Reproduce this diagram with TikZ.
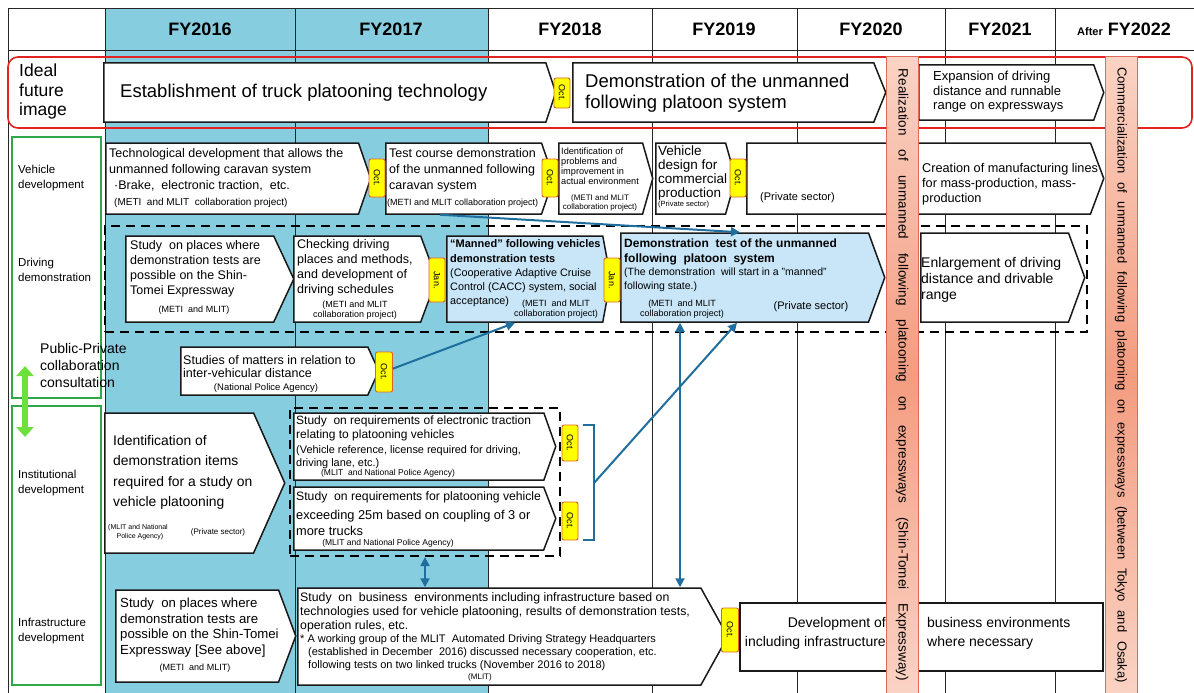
\documentclass[tikz,border=0pt]{standalone}
\usepackage{fontspec}
\setmainfont{Liberation Sans}
\usepackage{tikz}
\usetikzlibrary{arrows.meta,shapes.symbols,calc}
\definecolor{fyblue}{HTML}{86CDE0}
\definecolor{boxblue}{HTML}{C8E6F8}
\definecolor{arrblue}{HTML}{1F6E9E}
\definecolor{tagyel}{HTML}{FFFF00}
\definecolor{tagedge}{HTML}{E0602A}
\definecolor{barlt}{HTML}{FAD3C4}
\definecolor{bardk}{HTML}{F49C80}
\definecolor{baredge}{HTML}{E06A5A}
\definecolor{framered}{HTML}{E32222}
\definecolor{lblgreen}{HTML}{2EA84A}
\definecolor{arrgreen}{HTML}{6EE03C}
\newcommand{\fsz}[2]{\fontsize{#1}{#2}\selectfont}
\tikzset{
  gridline/.style={line width=0.9pt, black!85},
  hd/.style={font=\fsz{18}{20}\bfseries},
  txt/.style={inner sep=0pt, anchor=north west, align=left},
  ctxt/.style={inner sep=0pt, align=center},
  chev/.style={shape=signal, signal to=east, anchor=west, draw=black!90, line width=1.5pt, fill=white, inner sep=0pt},
  bluechev/.style={chev, fill=boxblue},
  tag/.style={draw=tagedge, fill=tagyel, line width=0.9pt, rounded corners=2pt, rotate=-90,
              inner sep=0pt, minimum height=16pt, font=\fsz{9}{10}},
  bar/.style={draw=baredge, line width=1pt, rotate=-90, inner sep=0pt,
              top color=barlt, bottom color=barlt, middle color=bardk},
  redframe/.style={draw=framered, line width=1.6pt, rounded corners=10pt},
  greenbox/.style={draw=lblgreen, line width=1.8pt},
  dashbox/.style={draw=black, line width=2.2pt, dash pattern=on 9pt off 6pt, inner sep=0pt},
  arr/.style={-{Triangle[length=9pt,width=9pt]}, line width=2pt, arrblue},
  darr/.style={{Triangle[length=9pt,width=9pt]}-{Triangle[length=9pt,width=9pt]}, line width=2pt, arrblue},
  garr/.style={{Triangle[length=10pt,width=17pt]}-{Triangle[length=10pt,width=17pt]}, line width=6pt, arrgreen},
}
\begin{document}
\begin{tikzpicture}[x=1pt,y=-1pt]
\useasboundingbox (0,0) rectangle (1194,693);
% year columns and grid
\fill[fyblue] (105,8) rectangle (488,693);
\foreach \gx in {8,105,295,488,652,797,945,1055}
  \draw[gridline] (\gx,8) -- (\gx,693);
\draw[gridline] (8,8) -- (1194,8) (8,50) -- (1194,50);
\node[hd] (h16) at (200,29) {FY2016};
\node[hd] (h17) at (391,29) {FY2017};
\node[hd] (h18) at (570,29) {FY2018};
\node[hd] (h19) at (724,29) {FY2019};
\node[hd] (h20) at (871,29) {FY2020};
\node[hd] (h21) at (1000,29) {FY2021};
\node[hd] (h22) at (1124,29) {{\fsz{11}{13}After} FY2022};

% ideal future image
\draw[redframe] (8,57) rectangle (1192,128);
\node[txt, font=\fsz{17.5}{19.5}] (ideal) at (19,64) {Ideal\\future\\image};
\node[chev, minimum width=452, minimum height=59, signal pointer angle=143] (e1) at (103,92.5) {};
\node[txt, anchor=west, font=\fsz{18.5}{21}] (e1t) at (120,93) {Establishment of truck platooning technology};
\node[chev, minimum width=313, minimum height=59, signal pointer angle=136] (e2) at (572,92.5) {};
\node[txt, anchor=west, font=\fsz{18.5}{21}] (e2t) at (585,93) {Demonstration of the unmanned\\following platoon system};
\node[chev, minimum width=185, minimum height=55, signal pointer angle=140] (e3) at (918,92.5) {};
\node[txt, anchor=west, font=\fsz{13}{14.5}] (e3t) at (933,92) {Expansion of driving\\distance and runnable\\range on expressways};
\node[tag, minimum width=30] (te1) at (562,93) {Oct.};

% left labels
\draw[greenbox] (12,137) rectangle (101,398);
\draw[greenbox] (12,406) rectangle (101,685);
\node[txt, anchor=west, font=\fsz{11.5}{15}] (lveh) at (18,178) {Vehicle\\development};
\node[txt, anchor=west, font=\fsz{11.5}{15}] (ldrv) at (18,270) {Driving\\demonstration};
\node[txt, anchor=west, font=\fsz{14}{17}] (lppc) at (40,365) {Public-Private\\collaboration\\consultation};
\node[txt, anchor=west, font=\fsz{11.5}{15}] (linst) at (18,483) {Institutional\\development};
\node[txt, anchor=west, font=\fsz{11.5}{15}] (linfr) at (18,631) {Infrastructure\\development};
\draw[garr] (25,366) -- (25,437);

% vehicle development
\node[chev, minimum width=265, minimum height=71, signal pointer angle=142] (v1) at (105,178.5) {};
\node[txt, font=\fsz{12.5}{16}] (v1t) at (109,148) {Technological development that allows the\\unmanned following caravan system\\\hspace*{5pt}·Brake,\ \ electronic traction,\ \ etc.};
\node[txt, font=\fsz{10}{11}] (v1c) at (114,198) {(METI\ \ and MLIT\ \ collaboration project)};
\node[chev, minimum width=168, minimum height=71, signal pointer angle=142] (v2) at (385,178.5) {};
\node[txt, font=\fsz{12.5}{16}] (v2t) at (389,148) {Test course demonstration\\of the unmanned following\\caravan system};
\node[txt, font=\fsz{9}{10}] (v2c) at (387,199) {(METI and MLIT collaboration project)};
\node[chev, minimum width=94, minimum height=71, signal pointer angle=148] (v3) at (558,178.5) {};
\node[txt, font=\fsz{9.2}{10}] (v3t) at (561,148) {Identification of\\problems and\\improvement in\\actual environment};
\node[ctxt, font=\fsz{8}{9.5}] (v3c) at (600,203) {(METI and MLIT\\collaboration project)};
\node[chev, minimum width=80, minimum height=71, signal pointer angle=148] (v4) at (655,178.5) {};
\node[txt, font=\fsz{13.5}{14}] (v4t) at (658,146) {Vehicle\\design for\\commercial\\production};
\node[txt, font=\fsz{7.5}{9}] (v4c) at (658,201) {(Private sector)};
\node[chev, minimum width=357, minimum height=71, signal pointer angle=139] (v5) at (746,178.5) {};
\node[txt, font=\fsz{11}{12}] (v5c) at (760,192) {(Private sector)};
\node[txt, font=\fsz{12.7}{15}] (v5t) at (922,163) {Creation of manufacturing lines\\for mass-production, mass-\\production};
\node[tag, minimum width=38] (tv1) at (377,178) {Oct.};
\node[tag, minimum width=38] (tv2) at (550,178) {Oct.};
\node[tag, minimum width=38] (tv4) at (738,178) {Oct.};

% driving demonstration
\node[dashbox, minimum width=982, minimum height=106] (drvbox) at (596,279) {};
\node[chev, minimum width=168, minimum height=86, signal pointer angle=130] (d1) at (125,279) {};
\node[txt, font=\fsz{12.5}{15}] (d1t) at (130,240) {Study\ \ on places where\\demonstration tests are\\possible on the Shin-\\Tomei Expressway};
\node[ctxt, font=\fsz{9}{10}] (d1c) at (194,310) {(METI\ \ and MLIT)};
\node[chev, minimum width=143, minimum height=86, signal pointer angle=139] (d2) at (293,279) {};
\node[txt, font=\fsz{12.5}{15}] (d2t) at (297,239) {Checking driving\\places and methods,\\and development of\\driving schedules};
\node[ctxt, font=\fsz{9}{10.5}] (d2c) at (355,310) {(METI and MLIT\\collaboration project)};
\node[bluechev, minimum width=164, minimum height=86, signal pointer angle=159] (d3) at (446,279) {};
\node[txt, font=\fsz{11}{15}\bfseries] (d3t1) at (450,239) {\textquotedblleft Manned\textquotedblright\ following vehicles\\demonstration tests};
\node[txt, font=\fsz{10.8}{14}] (d3t2) at (450,268) {(Cooperative Adaptive Cruise\\Control (CACC) system, social\\acceptance)};
\node[ctxt, font=\fsz{9}{10.5}] (d3c) at (556,309) {(METI\ \ and MLIT\\collaboration project)};
\node[bluechev, minimum width=264, minimum height=89, signal pointer angle=140] (d4) at (620,277.5) {};
\node[txt, font=\fsz{12}{14.5}\bfseries] (d4t1) at (624,239) {Demonstration\ \ test of the unmanned\\following\ \ platoon\ \ system};
\node[txt, font=\fsz{10.5}{14}] (d4t2) at (624,268) {(The demonstration\ \ will start in a "manned"\\following state.)};
\node[ctxt, font=\fsz{9}{10.5}] (d4c1) at (682,309) {(METI\ \ and MLIT\\collaboration project)};
\node[ctxt, font=\fsz{11}{12}] (d4c2) at (811,307) {(Private sector)};
\node[chev, minimum width=164, minimum height=89, signal pointer angle=140] (d5) at (920,277.5) {};
\node[txt, font=\fsz{14}{16}] (d5t) at (921,257) {Enlargement of driving\\distance and drivable\\range};
\node[tag, minimum width=44] (td2) at (437,280) {Jan.};
\node[tag, minimum width=44] (td3) at (612,280) {Jan.};

% police agency study
\node[chev, minimum width=198, minimum height=48, signal pointer angle=131] (s1) at (180,371) {};
\node[txt, font=\fsz{12.5}{13.5}] (s1t) at (183,355) {Studies of matters in relation to\\inter-vehicular distance};
\node[ctxt, font=\fsz{9.5}{10}] (s1c) at (266,388) {(National Police Agency)};
\node[tag, minimum width=40, minimum height=17] (ts1) at (384,372) {Oct.};

% institutional development
\node[chev, minimum width=180, minimum height=140, signal pointer angle=132] (i1) at (104,483) {};
\node[txt, font=\fsz{13.9}{20.5}] (i1t) at (113,435) {Identification of\\demonstration items\\required for a study on\\vehicle platooning};
\node[ctxt, font=\fsz{7}{9}] (i1c1) at (138,532) {(MLIT and National\\\ \ Police Agency)};
\node[ctxt, font=\fsz{8}{9}] (i1c2) at (218,532) {(Private sector)};
\node[dashbox, minimum width=270, minimum height=148] (instbox) at (425,482) {};
\node[chev, minimum width=262, minimum height=67, signal pointer angle=141] (i2) at (293,446.5) {};
\node[txt, font=\fsz{12}{14}] (i2t) at (296,416) {Study\ \ on requirements of electronic traction\\relating to platooning vehicles};
\node[txt, font=\fsz{10.9}{13}] (i2t2) at (296,445) {(Vehicle reference, license required for driving,\\driving lane, etc.)};
\node[ctxt, font=\fsz{8.5}{9.5}] (i2c) at (388,473) {(MLIT\ \ and National Police Agency)};
\node[chev, minimum width=262, minimum height=63, signal pointer angle=138] (i3) at (293,518.5) {};
\node[txt, font=\fsz{12.2}{14}] (i3t1) at (296,491) {Study\ \ on requirements for platooning vehicle};
\node[txt, font=\fsz{12.8}{16}] (i3t2) at (296,510) {exceeding 25m based on coupling of 3 or\\more trucks};
\node[ctxt, font=\fsz{8.5}{9.5}] (i3c) at (388,543) {(MLIT and National Police Agency)};
\node[tag, minimum width=36] (ti2) at (570,443) {Oct.};
\node[tag, minimum width=38] (ti3) at (570,521) {Oct.};
\draw[line width=1.8pt, arrblue] (583,425) -- (594,425) -- (594,540) -- (583,540);
\coordinate (brk) at (594,483);

% infrastructure development
\node[chev, minimum width=180, minimum height=92, signal pointer angle=139] (f1) at (115,636) {};
\node[txt, font=\fsz{13.2}{15.5}] (f1t) at (120,598) {Study\ \ on places where\\demonstration tests are\\possible on the Shin-Tomei\\Expressway [See above]};
\node[ctxt, font=\fsz{9}{10}] (f1c) at (195,668) {(METI\ \ and MLIT)};
\node[chev, minimum width=430, minimum height=97, signal pointer angle=122] (f2) at (297,636.5) {};
\node[txt, font=\fsz{12.3}{14}] (f2t) at (300,592) {Study\ \ on\ \ business\ \ environments including infrastructure based on\\technologies used for vehicle platooning, results of demonstration tests,\\operation rules, etc.};
\node[txt, font=\fsz{11}{13}] (f2t2) at (300,634) {* A working group of the MLIT\ \ Automated Driving Strategy Headquarters\\\hspace*{8pt}(established in December\ \ 2016) discussed necessary cooperation, etc.\\\hspace*{8pt}following tests on two linked trucks (November 2016 to 2018)};
\node[ctxt, font=\fsz{8}{9}] (f2c) at (480,677) {(MLIT)};
\node[draw=black!90, line width=1.5pt, fill=white, minimum width=363, minimum height=68, inner sep=0pt] (f3) at (921.5,637) {};
\node[ctxt, anchor=east, align=right, font=\fsz{14}{19}] (f3t1) at (886,633) {Development of\\including infrastructure};
\node[txt, anchor=west, font=\fsz{14}{19}] (f3t2) at (927,633) {business environments\\where necessary};
\node[tag, minimum width=44, minimum height=17] (tf2) at (730,630) {Oct.};

% milestone bars
\node[bar, minimum width=636, minimum height=32, font=\fsz{13.5}{15}] (rbar) at (902,375)
  {\makebox[612pt][s]{Realization of unmanned following platooning on expressways (Shin-Tomei Expressway)}};
\node[bar, minimum width=636, minimum height=32, font=\fsz{13}{15}] (cbar) at (1121,375)
  {\makebox[616pt][s]{Commercialization of unmanned following platooning on expressways (between Tokyo and Osaka)}};

% links
\draw[arr] ($(v2.west |- v2.south)+(55,0)$) -- ($(d4.west |- d4.north)+(120,0)$);
\draw[arr] (ts1) -- ($(d3.west |- d3.south)+(69,0)$);
\draw[arr] (brk) -- ($(d4.west |- d4.south)+(117,0)$);
\coordinate (a3) at ($(d4.west |- d4.south)+(60,0)$);
\draw[darr] (a3) -- (a3 |- f2.north);
\coordinate (a5) at (instbox.south);
\draw[darr] (a5) -- (a5 |- f2.north);
\end{tikzpicture}
\end{document}
